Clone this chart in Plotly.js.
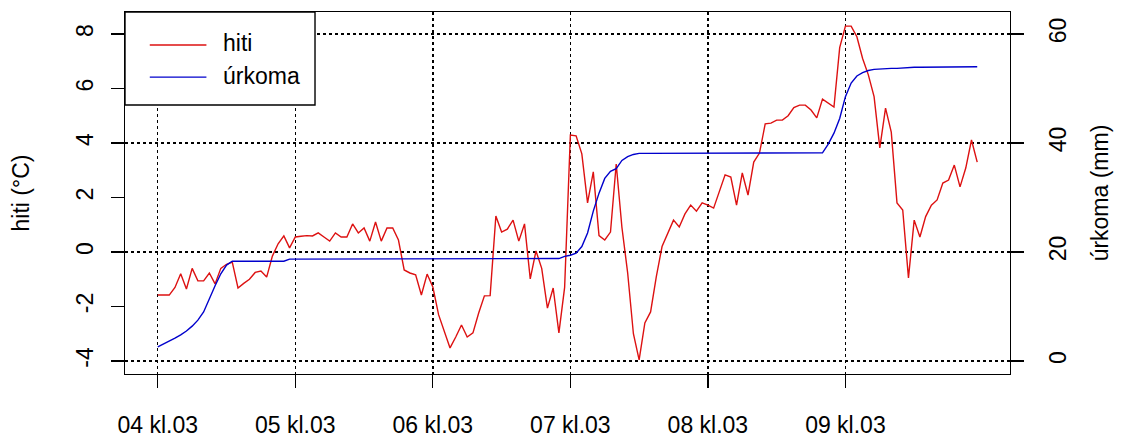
<!DOCTYPE html>
<html>
<head>
<meta charset="utf-8">
<script src="https://cdn.plot.ly/plotly-3.0.1.min.js"></script>
<style>html,body{margin:0;padding:0;background:#fff;}#chart{width:1123px;height:441px;}</style>
</head>
<body>
<div id="chart"></div>
<script>
// hours since 04 kl.03
const tickHours = [0, 24, 48, 72, 96, 120];
const tickLabels = ["04 kl.03", "05 kl.03", "06 kl.03", "07 kl.03", "08 kl.03", "09 kl.03"];
const hitiTicks = [-4, -2, 0, 2, 4, 6, 8];
const hitiTickLabels = ["-4", "-2", "0", "2", "4", "6", "8"];
const urkomaTicks = [0, 20, 40, 60];
const seriesNames = ["hiti", "úrkoma"];
const seriesColors = ["#dd1111", "#0000cc"];

const hiti = [
  -1.58, -1.58, -1.58, -1.3, -0.8, -1.36, -0.6, -1.06, -1.06, -0.77, -1.17, -0.6,
  -0.45, -0.37, -1.32, -1.15, -1.0, -0.75, -0.7, -0.92, -0.15, 0.3, 0.59, 0.15,
  0.55, 0.58, 0.6, 0.59, 0.70, 0.55, 0.40, 0.70, 0.55, 0.55, 1.03, 0.70,
  0.88, 0.40, 1.10, 0.40, 0.88, 0.88, 0.44, -0.66, -0.77, -0.84, -1.58, -0.81,
  -1.28, -2.3, -2.9, -3.52, -3.12, -2.68, -3.12, -2.97, -2.24, -1.61, -1.6, 1.32,
  0.73, 0.84, 1.17, 0.40, 1.03, -0.99, 0.04, -0.6, -2.06, -1.32, -2.97, -1.3,
  4.29, 4.26, 3.6, 1.8, 2.94, 0.6, 0.44, 0.73, 3.23, 0.9, -0.77, -3.0,
  -3.96, -2.6, -2.20, -0.9, 0.2, 0.70, 1.17, 0.92, 1.4, 1.72, 1.5, 1.80,
  1.72, 1.61, 2.20, 2.83, 2.75, 1.72, 2.90, 2.09, 3.30, 3.63, 4.70, 4.73,
  4.84, 4.84, 5.0, 5.3, 5.39, 5.39, 5.21, 4.92, 5.61, 5.47, 5.32, 7.5,
  8.29, 8.29, 7.9, 7.1, 6.5, 5.7, 3.82, 5.28, 4.4, 1.8, 1.54, -0.95,
  1.17, 0.55, 1.3, 1.72, 1.91, 2.53, 2.64, 3.19, 2.39, 3.08, 4.11, 3.30
];

const urkoma = [
  2.6, 3.1, 3.7, 4.2, 4.8, 5.5, 6.4, 7.5, 9.0, 11.5, 13.8, 16.0,
  17.6, 18.3, 18.3, 18.3, 18.3, 18.3, 18.3, 18.3, 18.3, 18.3, 18.3, 18.7,
  18.7, 18.7, 18.7, 18.7, 18.7, 18.7, 18.7, 18.7, 18.7, 18.7, 18.7, 18.7,
  18.7, 18.7, 18.7, 18.7, 18.7, 18.7, 18.7, 18.7, 18.7, 18.7, 18.7, 18.7,
  18.7, 18.7, 18.7, 18.7, 18.7, 18.7, 18.7, 18.7, 18.7, 18.7, 18.7, 18.7,
  18.7, 18.7, 18.7, 18.7, 18.7, 18.7, 18.7, 18.7, 18.7, 18.7, 18.8, 19.2,
  19.4, 19.8, 21.0, 23.5, 27.5, 30.8, 33.5, 34.8, 35.3, 36.8, 37.5, 37.9,
  38.1, 38.1, 38.1, 38.1, 38.1, 38.1, 38.1, 38.1, 38.1, 38.1, 38.1, 38.1,
  38.1, 38.1, 38.1, 38.1, 38.1, 38.1, 38.1, 38.1, 38.1, 38.1, 38.1, 38.1,
  38.1, 38.1, 38.1, 38.1, 38.1, 38.1, 38.1, 38.1, 38.2, 39.8, 41.8, 44.5,
  48.5, 51.0, 52.3, 52.9, 53.3, 53.5, 53.6, 53.6, 53.7, 53.7, 53.8, 53.9,
  53.9, 53.9, 53.9, 53.9, 53.9, 54.0, 54.0, 54.0, 54.0, 54.0, 54.0, 54.0
];

const hours = hiti.map((_, i) => i);

const FONT = "Liberation Sans, Arial, sans-serif";
const FS = 23;
const pad = 0.04 * (hours[hours.length - 1] - hours[0]);

const traces = [
  {x: hours, y: hiti, type: "scatter", mode: "lines", name: seriesNames[0],
   line: {color: seriesColors[0], width: 1.4}, yaxis: "y"},
  {x: hours, y: urkoma, type: "scatter", mode: "lines", name: seriesNames[1],
   line: {color: seriesColors[1], width: 1.4}, yaxis: "y2"}
];

// legend drawn as in R's legend(): box, line samples and labels (paper coords)
const legY = [0.909, 0.820];
const shapes = [
  {type: "rect", xref: "paper", yref: "paper", x0: 0, x1: 0.2147, y0: 0.743, y1: 1,
   line: {color: "#000", width: 1.4}, fillcolor: "#fff", layer: "above"}
];
const annotations = [];
seriesNames.forEach((n, i) => {
  shapes.push({type: "line", xref: "paper", yref: "paper", x0: 0.028, x1: 0.092,
    y0: legY[i], y1: legY[i], line: {color: seriesColors[i], width: 1.4}, layer: "above"});
  annotations.push({xref: "paper", yref: "paper", x: 0.108, y: legY[i] + 0.004,
    xanchor: "left", yanchor: "middle", text: n, showarrow: false,
    font: {family: FONT, size: FS, color: "#000"}});
});

const layout = {
  width: 1123, height: 441,
  margin: {l: 125, r: 113, t: 12, b: 67},
  paper_bgcolor: "#fff", plot_bgcolor: "#fff",
  font: {family: FONT, size: FS, color: "#000"},
  showlegend: false,
  shapes: shapes,
  annotations: annotations,
  xaxis: {
    range: [hours[0] - pad, hours[hours.length - 1] + pad],
    tickmode: "array", tickvals: tickHours, ticktext: tickLabels,
    ticks: "outside", ticklen: 13, tickwidth: 1.3, tickcolor: "#000",
    showline: true, linecolor: "#000", linewidth: 1.4, mirror: true,
    showgrid: true, gridcolor: "#000", griddash: "dot", gridwidth: 1.4,
    zeroline: false, tickfont: {family: FONT, size: FS}, ticklabelstandoff: 17
  },
  yaxis: {
    range: [-4.477, 8.807],
    tickmode: "array", tickvals: hitiTicks, ticktext: hitiTickLabels,
    ticks: "outside", ticklen: 13, tickwidth: 1.3, tickcolor: "#000",
    showline: true, linecolor: "#000", linewidth: 1.4, mirror: true,
    showgrid: false, zeroline: false, tickangle: -90,
    tickfont: {family: FONT, size: FS}, ticklabelstandoff: 8,
    title: {text: "hiti (°C)", font: {family: FONT, size: FS}, standoff: 36}
  },
  yaxis2: {
    overlaying: "y", side: "right",
    range: [-2.385, 64.035],
    tickmode: "array", tickvals: urkomaTicks,
    ticks: "outside", ticklen: 13, tickwidth: 1.3, tickcolor: "#000",
    showline: false,
    showgrid: true, gridcolor: "#000", griddash: "dot", gridwidth: 1.4,
    zeroline: false, tickangle: -90,
    tickfont: {family: FONT, size: FS}, ticklabelstandoff: 14,
    title: {text: "úrkoma (mm)", font: {family: FONT, size: FS}, standoff: 22}
  }
};

Plotly.newPlot("chart", traces, layout, {staticPlot: true, displayModeBar: false});
</script>
</body>
</html>
